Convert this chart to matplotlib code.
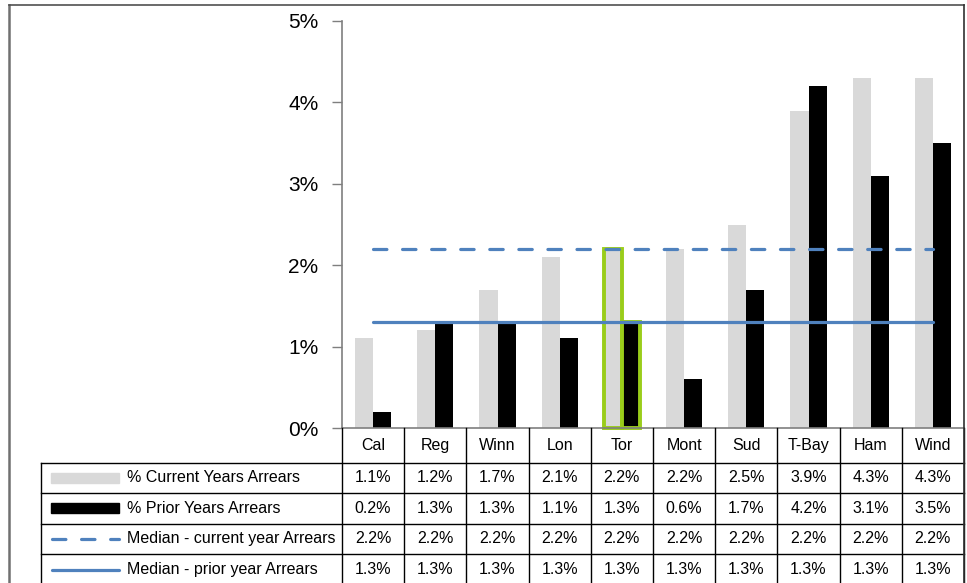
import matplotlib
matplotlib.use("Agg")
import matplotlib.pyplot as plt
from matplotlib.patches import Rectangle
from matplotlib.lines import Line2D
from matplotlib.transforms import blended_transform_factory
import numpy as np

plt.rcParams['font.family'] = ['Liberation Sans', 'DejaVu Sans']

# ---- data -------------------------------------------------------------
cities = ["Cal", "Reg", "Winn", "Lon", "Tor", "Mont", "Sud", "T-Bay", "Ham", "Wind"]
current_arrears = [1.1, 1.2, 1.7, 2.1, 2.2, 2.2, 2.5, 3.9, 4.3, 4.3]
prior_arrears = [0.2, 1.3, 1.3, 1.1, 1.3, 0.6, 1.7, 4.2, 3.1, 3.5]
median_current = [2.2] * 10
median_prior = [1.3] * 10
series_names = ["% Current Years Arrears", "% Prior Years Arrears",
                "Median - current year Arrears", "Median - prior year Arrears"]
highlight_city = "Tor"
y_ticks = [0, 1, 2, 3, 4, 5]

# ---- styling -----------------------------------------------------------
W, H = 967, 583
GRAY_BAR = "#D9D9D9"
BLACK_BAR = "#000000"
BLUE = "#4F81BD"
GREEN = "#9ACD1A"
AXIS_GRAY = "#7F7F7F"
TABLE_FS = 11.5

fig = plt.figure(figsize=(W / 100, H / 100), dpi=100)


def fx(px):
    return px / W


def fy(py):
    return 1 - py / H


plot_left, plot_right, plot_top, plot_bottom = 342, 964, 21, 428
ax = fig.add_axes([fx(plot_left), fy(plot_bottom),
                   fx(plot_right - plot_left), (plot_bottom - plot_top) / H])

x = np.arange(len(cities))
bw = 0.29
bars_cur = ax.bar(x - bw / 2, current_arrears, bw, color=GRAY_BAR, zorder=2)
bars_pri = ax.bar(x + bw / 2, prior_arrears, bw, color=BLACK_BAR, zorder=2)

hi = cities.index(highlight_city)
for b in (bars_cur[hi], bars_pri[hi]):
    b.set_edgecolor(GREEN)
    b.set_linewidth(2.8)
    b.set_clip_on(False)

ax.plot(x, median_current, color=BLUE, lw=2.3, dashes=(4.2, 4.9),
        dash_capstyle="round", zorder=3)
ax.plot(x, median_prior, color=BLUE, lw=2.3, solid_capstyle="round", zorder=3)

ax.set_xlim(-0.5, len(cities) - 0.5)
ax.set_ylim(0, 5)
ax.set_yticks(y_ticks)
ax.set_yticklabels([f"{t}%" for t in y_ticks], fontsize=15)
ax.set_xticks([])
ax.tick_params(axis="y", direction="out", length=7, width=1, color=AXIS_GRAY, pad=10)
for s in ("top", "right"):
    ax.spines[s].set_visible(False)
for s in ("left", "bottom"):
    ax.spines[s].set_color(AXIS_GRAY)
    ax.spines[s].set_linewidth(1.2)

# ---- data table under the axis ----------------------------------------
tr = blended_transform_factory(ax.transData, fig.transFigure)
line_kw = dict(color="black", lw=1.0)

header_top, header_bottom = 428, 462.5
row_edges = [462.5, 493, 523.5, 554, 585]
table_left = 41
n = len(cities)

# column separators, from the axis line down through the table
for k in range(n + 1):
    xc = k - 0.5
    fig.add_artist(Line2D([xc, xc], [fy(header_top), fy(row_edges[-1])],
                          transform=tr, color="black", lw=1.0))
for i, c in enumerate(cities):
    fig.text(i, fy((header_top + header_bottom) / 2), c, transform=tr,
             ha="center", va="center", fontsize=TABLE_FS)

# row lines
for ye in row_edges:
    fig.add_artist(Line2D([fx(table_left), fx(plot_right)], [fy(ye), fy(ye)],
                          transform=fig.transFigure, **line_kw))
fig.add_artist(Line2D([fx(table_left), fx(table_left)],
                      [fy(row_edges[0]), fy(row_edges[-1])],
                      transform=fig.transFigure, **line_kw))

rows = [current_arrears, prior_arrears, median_current, median_prior]
key_x0, key_x1 = 51, 119
for r, (name, vals) in enumerate(zip(series_names, rows)):
    yc = (row_edges[r] + row_edges[r + 1]) / 2
    for i, v in enumerate(vals):
        fig.text(i, fy(yc), f"{v:.1f}%", transform=tr,
                 ha="center", va="center", fontsize=TABLE_FS)
    fig.text(fx(127), fy(yc), name, ha="left", va="center", fontsize=TABLE_FS)
    if r == 0:
        fig.add_artist(Rectangle((fx(key_x0), fy(yc + 5)), fx(key_x1 - key_x0), 10 / H,
                                 transform=fig.transFigure, color=GRAY_BAR))
    elif r == 1:
        fig.add_artist(Rectangle((fx(key_x0), fy(yc + 5)), fx(key_x1 - key_x0), 10 / H,
                                 transform=fig.transFigure, color=BLACK_BAR))
    elif r == 2:
        fig.add_artist(Line2D([fx(key_x0 + 1), fx(key_x1)], [fy(yc), fy(yc)],
                              transform=fig.transFigure, color=BLUE, lw=2.3,
                              dashes=(4.2, 4.9), dash_capstyle="round"))
    else:
        fig.add_artist(Line2D([fx(key_x0 + 1), fx(key_x1)], [fy(yc), fy(yc)],
                              transform=fig.transFigure, color=BLUE, lw=2.3,
                              solid_capstyle="round"))

# outer chart frame
fig.add_artist(Line2D([fx(9), fx(9)], [fy(5), fy(600)], transform=fig.transFigure,
                      color="#707070", lw=1.8))
fig.add_artist(Line2D([fx(9), fx(964)], [fy(5), fy(5)], transform=fig.transFigure,
                      color="#505050", lw=1.2))
fig.add_artist(Line2D([fx(964), fx(964)], [fy(5), fy(600)], transform=fig.transFigure,
                      color="#303030", lw=1.2))

fig.savefig("out.png", dpi=100)
